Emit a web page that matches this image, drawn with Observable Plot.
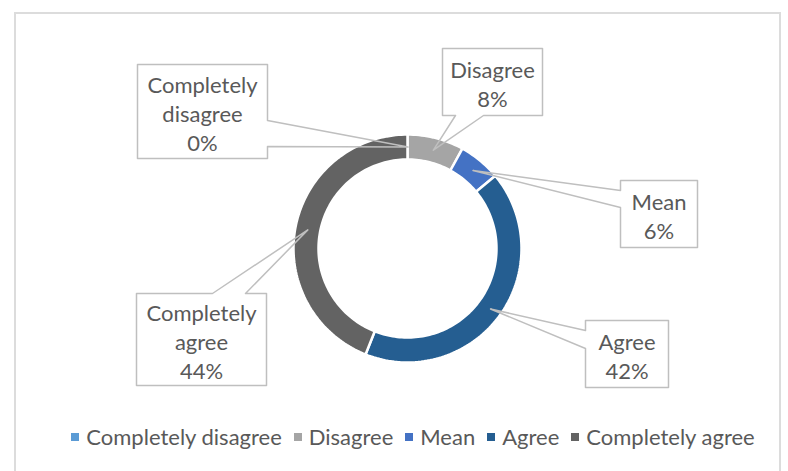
<!DOCTYPE html>
<html><head><meta charset="utf-8">
<script src="https://cdn.jsdelivr.net/npm/d3@7"></script>
<script src="https://cdn.jsdelivr.net/npm/@observablehq/plot@0.6"></script>
<style>
body{margin:0;background:#fff;font-family:Lato,"Open Sans",sans-serif;}
#wrap{position:relative;width:788px;height:471px;overflow:hidden;background:#fff;}
#frame{position:absolute;left:14px;top:12px;width:767px;height:500px;border:2px solid #DCDCDC;box-sizing:border-box;}
#chart{position:absolute;left:0;top:0;}
#legend{position:absolute;top:423px;left:0;width:826px;display:flex;justify-content:center;align-items:center;font-size:22px;color:#595959;white-space:nowrap;}
#legend .item{display:flex;align-items:center;margin:0 6px;}
#legend .sw{width:8px;height:8px;margin-right:7px;}
</style>
</head><body>
<div id="wrap"><div id="frame"></div><div id="chart"></div><div id="legend"></div></div>
<script>
// ---- data ----
const categories = ["Completely disagree", "Disagree", "Mean", "Agree", "Completely agree"];
const percents = [0, 8, 6, 42, 44];
const colors = ["#5B9BD5", "#A5A5A5", "#4472C4", "#255E91", "#636363"];

// ---- layout ----
const W = 788, H = 420;
const CX = 407.5, CY = 248.5, R_OUT = 114, R_IN = 89, R_ANCHOR = 102;
// callout boxes in pixel coordinates [left, top, right, bottom], side the pointer leaves from, span on that side
const callouts = [
  {box: [137, 64, 267, 158], side: "right", span: [120, 146]},
  {box: [442, 48, 542, 115], side: "bottom", span: [455, 483]},
  {box: [620, 180, 697, 247], side: "left", span: [190, 207]},
  {box: [585, 320, 668, 387], side: "left", span: [330, 348]},
  {box: [136, 293, 266, 385], side: "top", span: [212, 245]}
];

const pie = d3.pie().sort(null).value(d => d)(percents);

// ring polygons
const ring = [];
pie.forEach((p, i) => {
  const a0 = p.startAngle, a1 = p.endAngle;
  const n = Math.max(2, Math.ceil((a1 - a0) / (2 * Math.PI) * 240));
  for (let k = 0; k <= n; k++) {
    const a = a0 + (a1 - a0) * k / n;
    ring.push({cat: categories[i], x1: R_OUT * Math.sin(a), y1: R_OUT * Math.cos(a), x2: R_IN * Math.sin(a), y2: R_IN * Math.cos(a)});
  }
});

// callouts
const px = x => x - CX, py = y => CY - y;
const calloutPts = [];
const labels = [];
pie.forEach((p, i) => {
  const mid = (p.startAngle + p.endAngle) / 2;
  const ax = R_ANCHOR * Math.sin(mid), ay = R_ANCHOR * Math.cos(mid);
  const c = callouts[i];
  const [l, t, r, b] = c.box, [s0, s1] = c.span;
  let pts;
  const A = [ax, ay];
  if (c.side === "right") pts = [[l, t], [r, t], [r, s0], null, [r, s1], [r, b], [l, b], [l, t]];
  else if (c.side === "bottom") pts = [[l, t], [r, t], [r, b], [s1, b], null, [s0, b], [l, b], [l, t]];
  else if (c.side === "left") pts = [[l, t], [r, t], [r, b], [l, b], [l, s1], null, [l, s0], [l, t]];
  else pts = [[l, t], [s0, t], null, [s1, t], [r, t], [r, b], [l, b], [l, t]];
  pts.forEach(q => {
    if (q === null) calloutPts.push({id: i, x: A[0], y: A[1]});
    else calloutPts.push({id: i, x: px(q[0]), y: py(q[1])});
  });
  labels.push({x: px((l + r) / 2), y: py((t + b) / 2 + 1), text: categories[i].replace(" ", "\n") + "\n" + percents[i] + "%"});
});

const chart = Plot.plot({
  width: W, height: H,
  margin: 0,
  x: {domain: [-CX, W - CX], range: [0, W], axis: null},
  y: {domain: [CY - H, CY], range: [H, 0], axis: null},
  color: {domain: categories, range: colors},
  style: {background: "transparent", fontFamily: "Lato, 'Open Sans', sans-serif"},
  marks: [
    Plot.area(ring, {x1: "x1", y1: "y1", x2: "x2", y2: "y2", z: "cat", fill: "cat", stroke: "white", strokeWidth: 2.5, curve: "linear"}),
    Plot.line(calloutPts, {x: "x", y: "y", z: "id", stroke: "#BFBFBF", strokeWidth: 1.5, fill: "none", curve: "linear"}),
    Plot.text(labels, {x: "x", y: "y", text: "text", fontSize: 22, lineHeight: 1.32, fill: "#595959", textAnchor: "middle"})
  ]
});
document.getElementById("chart").appendChild(chart);

const legend = document.getElementById("legend");
categories.forEach((c, i) => {
  const it = document.createElement("div");
  it.className = "item";
  it.innerHTML = `<span class="sw" style="background:${colors[i]}"></span><span>${c}</span>`;
  legend.appendChild(it);
});
</script>
</body></html>
